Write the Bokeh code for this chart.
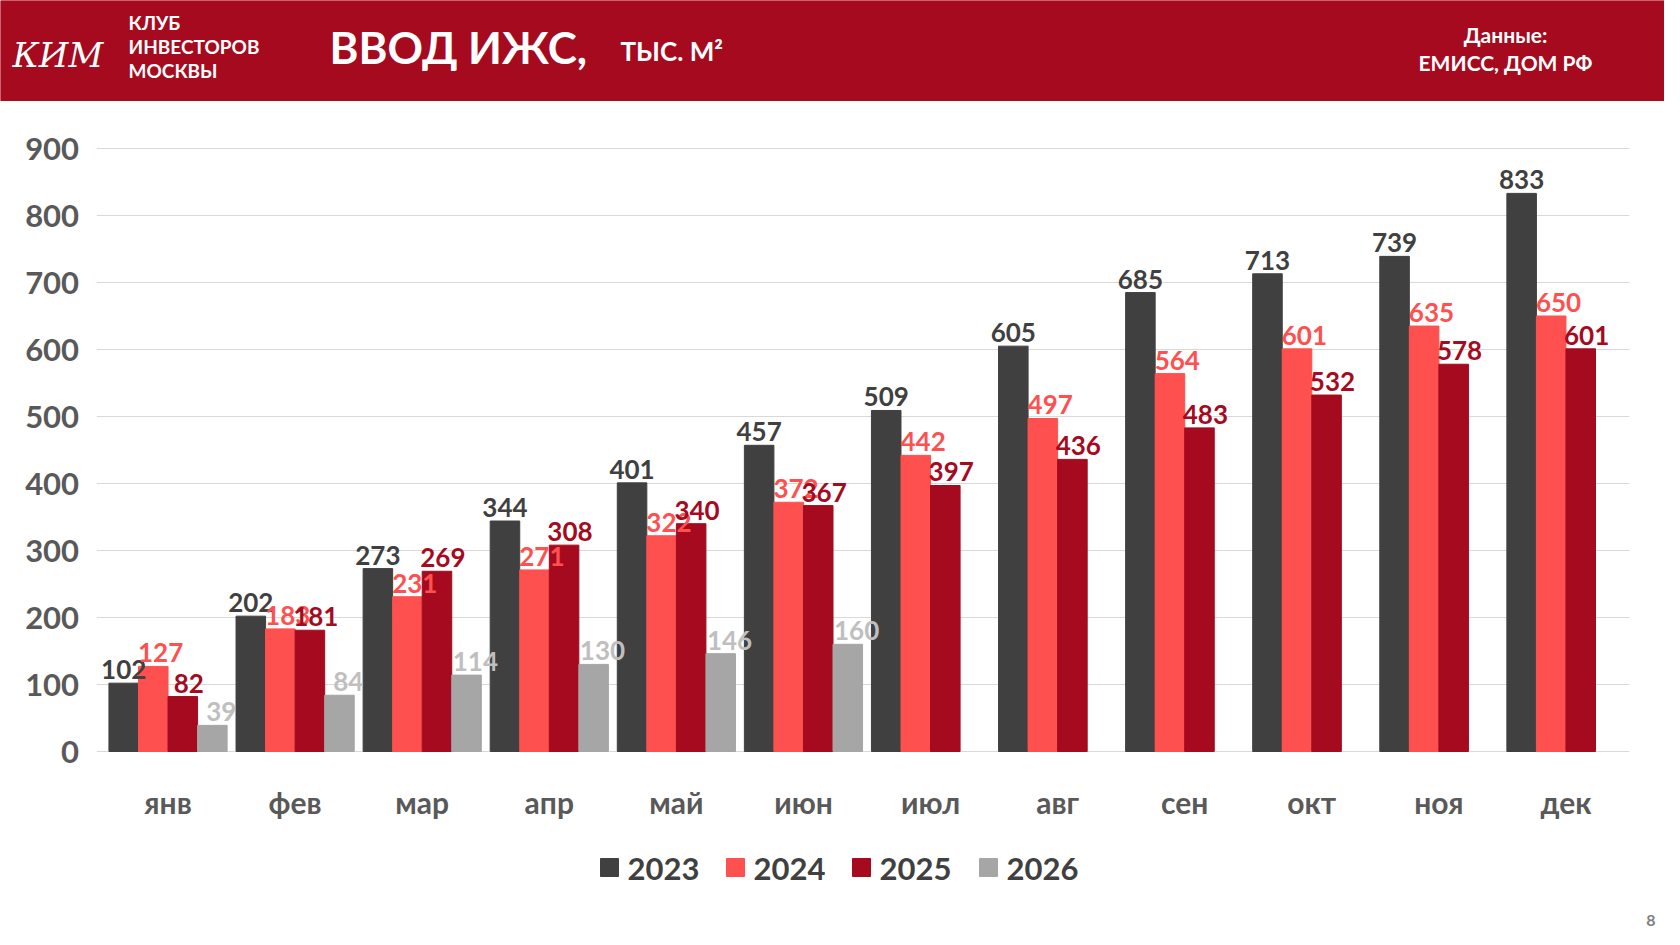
from bokeh.plotting import figure
from bokeh.models import Range1d, ColumnDataSource
from bokeh.core.properties import value
from bokeh.embed import file_html
from bokeh.resources import INLINE

months = ["янв","фев","мар","апр","май","июн","июл","авг","сен","окт","ноя","дек"]
y2023 = [102,202,273,344,401,457,509,605,685,713,739,833]
y2024 = [127,183,231,271,322,372,442,497,564,601,635,650]
y2025 = [82,181,269,308,340,367,397,436,483,532,578,601]
y2026 = [39,84,114,130,146,160]
years = ["2023", "2024", "2025", "2026"]
yticks = list(range(0, 901, 100))
series = [(y2023, "#404040", "#404040", 0.0),
          (y2024, "#FF5050", "#FF5050", 0.25),
          (y2025, "#A50A1E", "#A50A1E", 0.2),
          (y2026, "#A6A6A6", "#BFBFBF", 0.3)]
RED = "#A50A1E"
F = "Lato"
GREY = "#595959"

W, H = 1664, 929
FL, FR, FT, FB = 104, 1629, 148, 751   # frame of the bar area in canvas px
sx = (FR - FL) / 12.0
sy = (FB - FT) / 900.0
p = figure(width=W, height=H, output_backend="svg", toolbar_location=None,
           x_range=Range1d(-FL / sx, 12 + (W - FR) / sx),
           y_range=Range1d(-(H - FB) / sy, 900 + FT / sy),
           min_border_left=0, min_border_right=0, min_border_top=0, min_border_bottom=0)
p.axis.visible = False; p.grid.visible = False; p.outline_line_color = None
p.extra_x_ranges = {"px": Range1d(0, W)}
p.extra_y_ranges = {"py": Range1d(H, 0)}
PX = dict(x_range_name="px", y_range_name="py")

# header
p.quad(left=[0], right=[W], top=[0], bottom=[100], color=RED, **PX)
p.text(x=[12], y=[54], text=["КИМ"], text_color="white", text_font=value("DejaVu Serif"),
       text_font_size="34px", text_font_style="italic", text_baseline="middle", **PX)
p.text(x=[128]*3, y=[22, 46, 70], text=["КЛУБ", "ИНВЕСТОРОВ", "МОСКВЫ"], text_color="white",
       text_font=value(F), text_font_size="19px", text_font_style="bold",
       text_baseline="middle", **PX)
p.text(x=[329], y=[46], text=["ВВОД ИЖС,"], text_color="white", text_font=value(F),
       text_font_size="44px", text_font_style="bold", text_baseline="middle", **PX)
p.text(x=[620], y=[50], text=["ТЫС. М²"], text_color="white", text_font=value(F),
       text_font_size="26px", text_font_style="bold", text_baseline="middle", **PX)
p.text(x=[1505, 1505], y=[34, 62], text=["Данные:", "ЕМИСС, ДОМ РФ"], text_color="white",
       text_font=value(F), text_font_size="21px", text_font_style="bold",
       text_baseline="middle", text_align="center", **PX)

# grid and y tick labels
p.segment(x0=[-0.06]*len(yticks), x1=[12]*len(yticks), y0=yticks, y1=yticks,
          line_color="#D9D9D9", line_width=1)
p.text(x=[-0.2]*len(yticks), y=yticks, text=[str(t) for t in yticks], text_color=GREY,
       text_font=value(F), text_font_size="31px", text_font_style="bold",
       text_align="right", text_baseline="middle")
# month labels
p.text(x=[i + 0.5 for i in range(12)], y=[-76]*12, text=months, text_color=GREY,
       text_font=value(F), text_font_size="30px", text_font_style="bold",
       text_align="center", text_baseline="middle")

w = 0.2325
srcs = []
for k, (vals, col, lcol, off) in enumerate(series):
    xs = [i + 0.5 + (k - 1.5) * w for i in range(len(vals))]
    src = ColumnDataSource(dict(x=xs, top=vals, lx=[x + off * w for x in xs],
                                ly=[v + 6 for v in vals], t=[str(v) for v in vals]))
    p.vbar(x="x", top="top", width=w, color=col, source=src)
    srcs.append((src, lcol))
for src, lcol in srcs:
    p.text(x="lx", y="ly", text="t", source=src, text_color=lcol, text_font=value(F),
           text_font_size="26px", text_font_style="bold", text_align="center",
           text_baseline="bottom")

# legend
lx0 = [600, 726, 852, 979]
p.rect(x=[x + 9 for x in lx0], y=[867]*4, width=18, height=18,
       color=[s[1] for s in series], **PX)
p.text(x=[x + 27 for x in lx0], y=[868]*4, text=years, text_color="#404040",
       text_font=value(F), text_font_size="31px", text_font_style="bold",
       text_baseline="middle", **PX)
p.text(x=[1655], y=[920], text=["8"], text_color="#7F7F7F", text_font=value(F),
       text_font_size="16px", text_font_style="bold", text_baseline="middle",
       text_align="right", **PX)

open("out.html", "w").write(file_html(p, INLINE))
